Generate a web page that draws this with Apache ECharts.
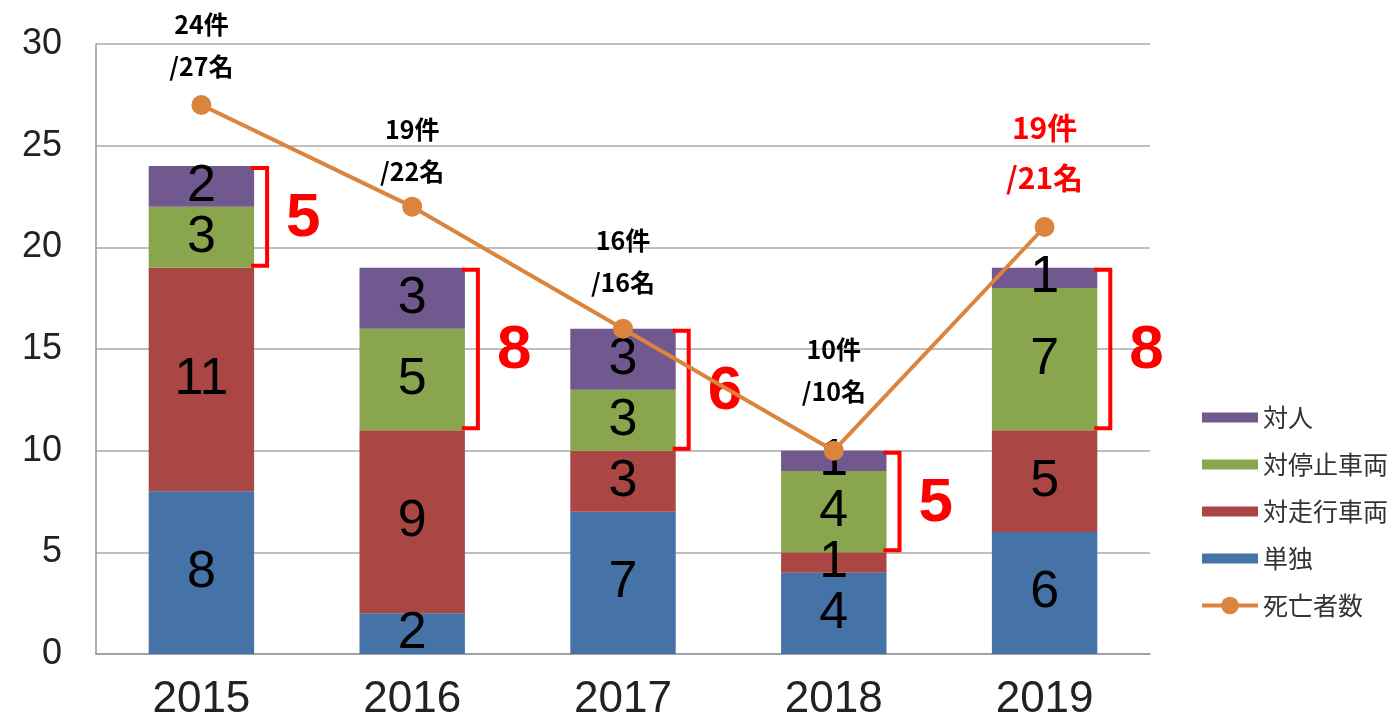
<!DOCTYPE html>
<html>
<head>
<meta charset="utf-8">
<script src="https://cdn.jsdelivr.net/npm/echarts@6/dist/echarts.min.js"></script>
<style>
  html, body { margin: 0; padding: 0; background: #fff; }
  #chart { width: 1387px; height: 719px; }
</style>
</head>
<body>
<div id="chart"></div>
<script>
var years = ['2015', '2016', '2017', '2018', '2019']
var tandoku = [8, 2, 7, 4, 6]        // 単独
var taiSoko = [11, 9, 3, 1, 5]       // 対走行車両
var taiTeishi = [3, 5, 3, 4, 7]      // 対停止車両
var taijin = [2, 3, 3, 1, 1]         // 対人
var kensu = [24, 19, 16, 10, 19]     // 件数
var shibo = [27, 22, 16, 10, 21]     // 死亡者数
var yTicks = [0, 5, 10, 15, 20, 25, 30]

var FONT = '"Noto Sans CJK JP", "Liberation Sans", sans-serif'
var NARROW = '"Liberation Sans Narrow", "Liberation Sans", sans-serif'
var lastIdx = years.length - 1
// how far each annotation sits above its point (layout only)
var labelGap = [8, 4, 15, 28, 14]

// bracket: from top of 対走行車両 to top of stack, label = 対停止 + 対人
var bracketData = years.map(function (y, i) {
  var lo = tandoku[i] + taiSoko[i]
  var hi = lo + taiTeishi[i] + taijin[i]
  return [i, lo, hi, taiTeishi[i] + taijin[i]]
})

var barLabel = {
  show: true,
  position: 'inside',
  color: '#000',
  fontSize: 52,
  fontFamily: NARROW,
  fontWeight: 'normal'
}

function barSeries(name, data, color) {
  return {
    name: name,
    type: 'bar',
    stack: 'total',
    barWidth: '50%',
    data: data,
    itemStyle: { color: color },
    label: barLabel,
    z: 2
  }
}

var lineData = shibo.map(function (v, i) {
  var item = { value: v, label: { distance: labelGap[i] } }
  if (i === lastIdx) {
    item.label.color = '#ff0000'
    item.label.fontSize = 30
    item.label.lineHeight = 50
  }
  return item
})

var rectIcon = 'path://M0,0H56V10H0Z'

var chart = echarts.init(document.getElementById('chart'))
var option = {
  animation: false,
  grid: { left: 96, right: 237, top: 44, bottom: 65, outerBoundsMode: 'none', containLabel: false },
  legend: {
    orient: 'vertical',
    left: 1195,
    top: 400,
    itemGap: 22,
    itemWidth: 56,
    itemHeight: 22,
    symbolKeepAspect: true,
    textStyle: { fontSize: 25, color: '#333', fontFamily: FONT },
    data: [
      { name: '対人', icon: rectIcon },
      { name: '対停止車両', icon: rectIcon },
      { name: '対走行車両', icon: rectIcon },
      { name: '単独', icon: rectIcon },
      { name: '死亡者数', lineStyle: { width: 4 } }
    ]
  },
  xAxis: {
    type: 'category',
    data: years,
    axisLine: { lineStyle: { color: '#999', width: 1.5 } },
    axisTick: { show: false },
    axisLabel: { fontSize: 44, color: '#222', margin: 24, fontFamily: '"Liberation Sans", sans-serif' }
  },
  yAxis: {
    type: 'value',
    min: yTicks[0],
    max: yTicks[yTicks.length - 1],
    interval: 5,
    axisLine: { show: true, lineStyle: { color: '#999', width: 1.5 } },
    axisTick: { show: false },
    axisLabel: { fontSize: 36, color: '#222', margin: 34, fontFamily: '"Liberation Sans", sans-serif' },
    splitLine: { lineStyle: { color: '#aaa', width: 1.5 } }
  },
  series: [
    barSeries('単独', tandoku, '#4572A7'),
    barSeries('対走行車両', taiSoko, '#AA4643'),
    barSeries('対停止車両', taiTeishi, '#89A54E'),
    barSeries('対人', taijin, '#71588F'),
    {
      name: '死亡者数',
      type: 'line',
      data: lineData,
      color: '#DB843D',
      symbol: 'circle',
      symbolSize: 20,
      lineStyle: { width: 4, color: '#DB843D' },
      itemStyle: { color: '#DB843D' },
      z: 5,
      label: {
        show: true,
        position: 'top',
        color: '#000',
        fontSize: 25,
        fontWeight: 'bold',
        lineHeight: 42,
        fontFamily: FONT,
        formatter: function (p) {
          return kensu[p.dataIndex] + '件\n/' + shibo[p.dataIndex] + '名'
        }
      }
    },
    {
      name: 'bracket',
      type: 'custom',
      data: bracketData,
      encode: { x: 0, y: [1, 2] },
      z: 4,
      silent: true,
      renderItem: function (params, api) {
        var idx = api.value(0)
        var top = api.coord([idx, api.value(2)])
        var bot = api.coord([idx, api.value(1)])
        var bw = api.size([1, 0])[0] * 0.5
        var xe = top[0] + bw / 2
        return {
          type: 'group',
          children: [
            {
              type: 'polyline',
              shape: { points: [[xe - 3, top[1] + 2], [xe + 13, top[1] + 2], [xe + 13, bot[1] - 2], [xe - 3, bot[1] - 2]] },
              style: { stroke: '#ff0000', lineWidth: 4, fill: null }
            },
            {
              type: 'text',
              style: {
                text: String(api.value(3)),
                x: xe + 32,
                y: (top[1] + bot[1]) / 2 + 2,
                verticalAlign: 'middle',
                font: 'bold 62px "Liberation Sans", sans-serif',
                fill: '#ff0000'
              }
            }
          ]
        }
      }
    }
  ]
}
chart.setOption(option)
</script>
</body>
</html>
